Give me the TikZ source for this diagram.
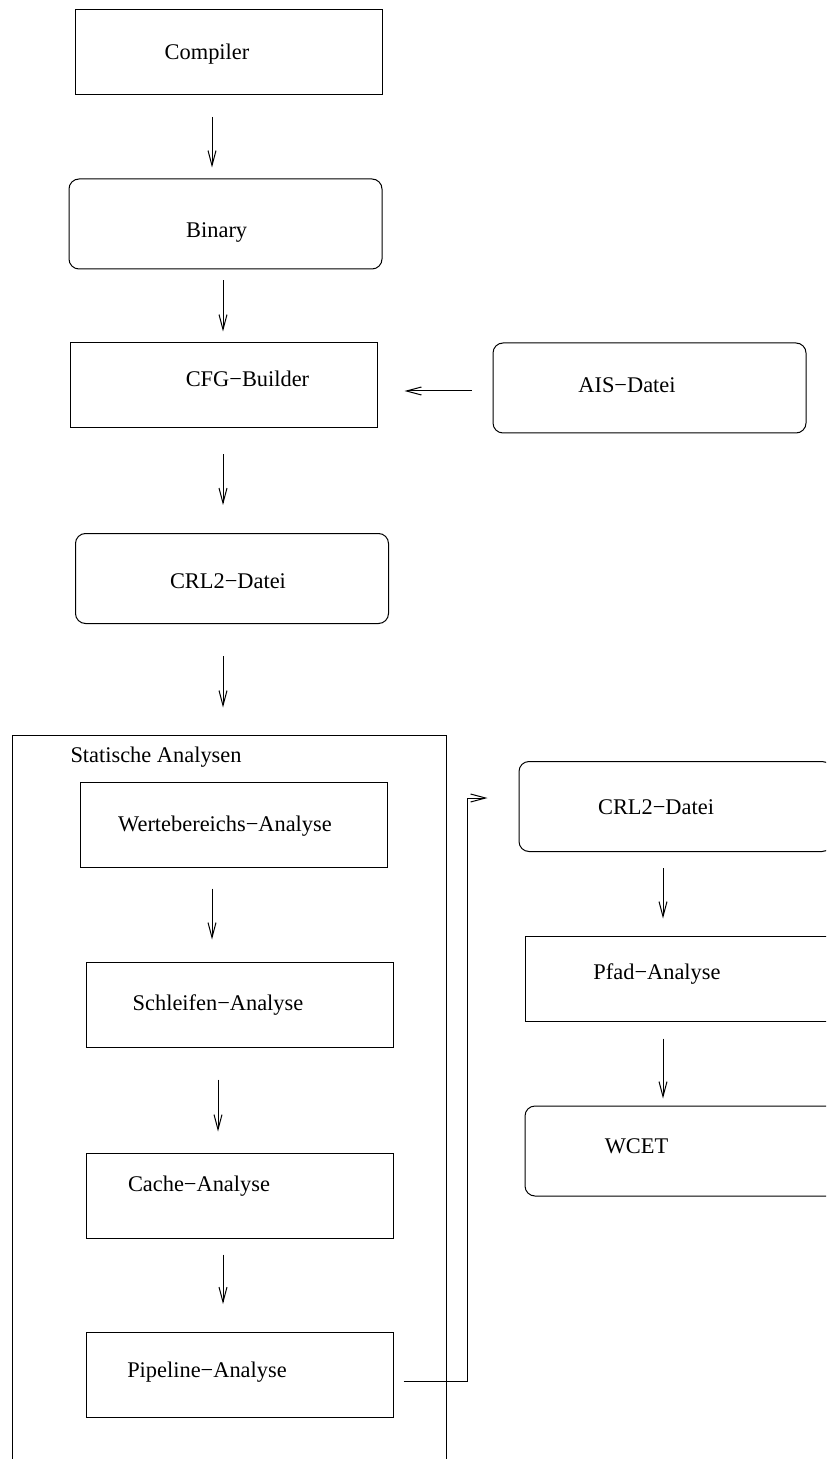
\documentclass[tikz,border=0pt]{standalone}
\usepackage{fontspec}
\setmainfont{Liberation Serif}
\usepackage{tikz}
\usetikzlibrary{arrows.meta,positioning,calc}

\begin{document}
\begin{tikzpicture}[
    x=0.5pt, y=-0.5pt,
    line width=0.5pt,
    sbox/.style={draw, minimum width=153.5pt, minimum height=42.5pt, inner sep=0pt},
    rbox/.style={draw, rounded corners=5pt, minimum width=156.5pt, minimum height=45pt, inner sep=0pt},
    frame/.style={draw, minimum width=217pt, minimum height=372.5pt, inner sep=0pt},
    lbl/.style={inner sep=0pt, anchor=base, font=\fontsize{11.2pt}{13pt}\selectfont},
    arr/.style={-{Straight Barb[length=7.5pt, width=4pt]}}
]

\useasboundingbox (0,0) rectangle (826,1459);
\clip (0,0) rectangle (826,1459);

% main column
\node[sbox] (compiler) at (228.5,52) {};
\node[lbl]  (compiler-l) at (207,60) {Compiler};

\node[rbox] (binary) at (225.5,224) {};
\node[lbl]  (binary-l) at (216.7,238) {Binary};

\node[sbox] (cfg) at (223.5,385.5) {};
\node[lbl]  (cfg-l) at (247.5,387) {CFG−Builder};

\node[rbox] (ais) at (649.5,388) {};
\node[lbl]  (ais-l) at (627,393) {AIS−Datei};

\node[rbox] (crl) at (232,578.5) {};
\node[lbl]  (crl-l) at (228,588) {CRL2−Datei};

% static analyses
\node[frame] (static) at (229,1107.5) {};
\node[lbl, anchor=base west] (static-l) at (70,762) {Statische Analysen};

\node[sbox] (werte) at (234,824.5) {};
\node[lbl]  (werte-l) at (225,831) {Wertebereichs−Analyse};

\node[sbox] (schleifen) at (239.5,1004.5) {};
\node[lbl]  (schleifen-l) at (218,1010) {Schleifen−Analyse};

\node[sbox] (cache) at (239.5,1195.5) {};
\node[lbl]  (cache-l) at (199,1191) {Cache−Analyse};

\node[sbox] (pipeline) at (239.5,1375) {};
\node[lbl]  (pipeline-l) at (207,1377) {Pipeline−Analyse};

% right column
\node[rbox] (crlr) at (675.5,806.5) {};
\node[lbl]  (crlr-l) at (656,814) {CRL2−Datei};

\node[sbox] (pfad) at (678.5,978.5) {};
\node[lbl]  (pfad-l) at (657,979) {Pfad−Analyse};

\node[rbox] (wcet) at (681.5,1151) {};
\node[lbl]  (wcet-l) at (636.5,1153) {WCET};

% arrows
\draw[arr] ($(compiler.south)+(-16.5,22)$) -- ($(binary.north)+(-13.5,-11)$);
\draw[arr] ($(binary.south)+(-2.5,11)$) -- ($(cfg.north)+(-0.5,-11)$);
\draw[arr] ($(ais.west)+(-21,3)$) -- ($(cfg.east)+(27,5.5)$);
\draw[arr] ($(cfg.south)+(-0.5,26)$) -- ($(crl.north)+(-9,-28)$);
\draw[arr] ($(crl.south)+(-9,32)$) -- ($(static.north)+(-6,-27)$);

\draw[arr] ($(werte.south)+(-22,21)$) -- ($(schleifen.north)+(-27.5,-22)$);
\draw[arr] ($(schleifen.south)+(-21.5,32)$) -- ($(cache.north)+(-21.5,-21)$);
\draw[arr] ($(cache.south)+(-16.5,16)$) -- ($(pipeline.north)+(-16.5,-28)$);

\draw[arr] ($(pipeline.east)+(10,6)$) -- ++(64,0) |- ($(crlr.west)+(-31,-8.5)$);

\draw[arr] ($(crlr.south)+(-12.5,16)$) -- ($(pfad.north)+(-15.5,-17)$);
\draw[arr] ($(pfad.south)+(-15.5,17)$) -- ($(wcet.north)+(-18.5,-7)$);

\end{tikzpicture}
\end{document}
